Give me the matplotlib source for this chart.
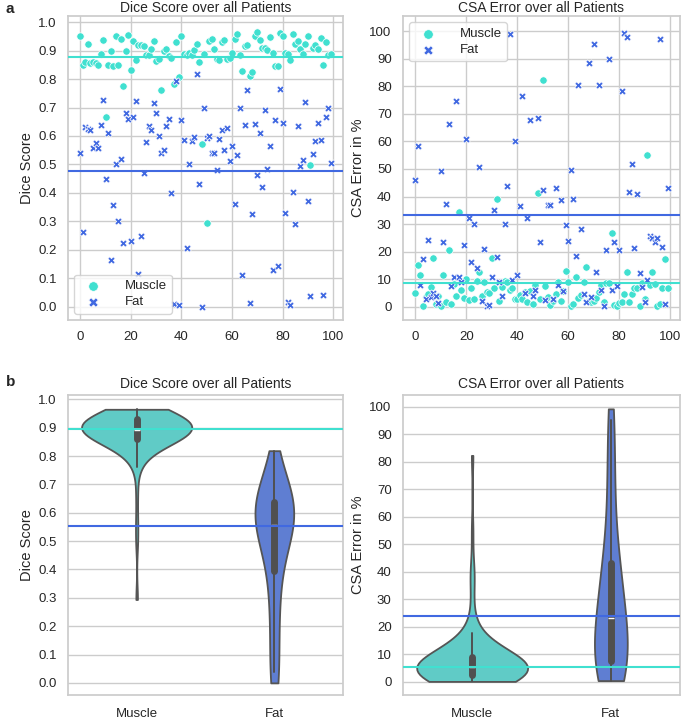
import matplotlib
matplotlib.use('Agg')
import matplotlib.pyplot as plt
import numpy as np
import pandas as pd
import seaborn as sns

# values, one per patient (0..99)
muscle_dice = [0.950, 0.850, 0.861, 0.922, 0.857, 0.859, 0.857, 0.851, 0.888, 0.937,
               0.667, 0.851, 0.897, 0.847, 0.950, 0.851, 0.941, 0.774, 0.900, 0.955,
               0.833, 0.934, 0.868, 0.921, 0.920, 0.917, 0.884, 0.886, 0.906, 0.935,
               0.862, 0.870, 0.762, 0.900, 0.906, 0.880, 0.873, 0.781, 0.929, 0.807,
               0.951, 0.888, 0.883, 0.890, 0.886, 0.902, 0.922, 0.860, 0.571, 0.887,
               0.294, 0.932, 0.939, 0.904, 0.870, 0.868, 0.930, 0.937, 0.872, 0.873,
               0.893, 0.942, 0.959, 0.886, 0.830, 0.917, 0.921, 0.811, 0.825, 0.952,
               0.965, 0.938, 0.908, 0.908, 0.902, 0.946, 0.892, 0.846, 0.846, 0.962,
               0.953, 0.893, 0.889, 0.868, 0.959, 0.923, 0.935, 0.906, 0.888, 0.923,
               0.950, 0.499, 0.909, 0.921, 0.904, 0.944, 0.851, 0.931, 0.883, 0.888]
fat_dice = [0.540, 0.262, 0.633, 0.624, 0.620, 0.558, 0.575, 0.556, 0.639, 0.727,
            0.450, 0.611, 0.164, 0.358, 0.500, 0.300, 0.519, 0.224, 0.680, 0.661,
            0.230, 0.667, 0.724, 0.114, 0.250, 0.470, 0.580, 0.636, 0.622, 0.716,
            0.679, 0.600, 0.540, 0.550, 0.636, 0.660, 0.400, 0.009, 0.794, 0.005,
            0.656, 0.586, 0.207, 0.500, 0.583, 0.596, 0.819, 0.430, 0.000, 0.700,
            0.593, 0.599, 0.541, 0.541, 0.480, 0.590, 0.620, 0.551, 0.628, 0.513,
            0.566, 0.360, 0.533, 0.700, 0.113, 0.639, 0.761, 0.013, 0.326, 0.641,
            0.462, 0.610, 0.421, 0.692, 0.483, 0.564, 0.128, 0.655, 0.143, 0.766,
            0.646, 0.329, 0.017, 0.006, 0.403, 0.290, 0.635, 0.495, 0.514, 0.720,
            0.372, 0.038, 0.536, 0.584, 0.646, 0.587, 0.042, 0.665, 0.700, 0.506]
muscle_csa = [5.1, 15.2, 11.7, 0.4, 3.5, 4.8, 7.2, 17.6, 1.0, 3.8,
              0.5, 11.7, 1.9, 20.5, 1.1, 8.3, 4.0, 34.3, 6.0, 3.2,
              10.1, 2.4, 6.9, 2.9, 9.5, 12.6, 4.0, 8.9, 5.4, 5.1,
              17.8, 7.0, 39.2, 2.2, 7.2, 9.5, 9.2, 6.0, 6.9, 2.8,
              3.0, 4.4, 2.8, 5.5, 1.9, 5.6, 1.2, 8.1, 41.2, 2.8,
              82.3, 7.5, 3.6, 0.8, 2.2, 4.8, 9.0, 2.0, 5.8, 12.9,
              9.0, 0.2, 1.2, 10.8, 3.2, 4.3, 8.9, 14.4, 2.0, 1.6,
              2.3, 3.4, 5.5, 8.1, 1.6, 8.6, 8.6, 26.9, 0.6, 0.2,
              1.3, 1.7, 4.8, 12.8, 1.9, 4.7, 6.8, 6.7, 0.5, 8.5,
              3.0, 54.9, 8.0, 12.6, 8.4, 0.2, 1.0, 6.8, 17.4, 6.8]
fat_csa = [45.9, 58.3, 8.0, 17.4, 3.0, 24.4, 3.5, 5.0, 4.1, 1.3,
           49.2, 23.6, 37.2, 66.2, 7.5, 11.0, 74.6, 10.9, 9.0, 22.3,
           60.7, 32.2, 16.3, 29.9, 14.0, 50.7, 2.0, 21.0, 0.5, 0.8,
           10.9, 35.0, 18.1, 9.0, 3.8, 30.0, 43.7, 98.9, 9.8, 60.2,
           11.5, 36.5, 76.4, 5.0, 32.2, 67.7, 4.1, 6.3, 68.3, 23.4,
           42.5, 2.4, 36.9, 36.9, 3.0, 43.1, 8.0, 38.9, 5.9, 29.7,
           24.0, 49.6, 39.0, 18.4, 80.5, 28.1, 4.7, 1.7, 88.3, 3.6,
           95.2, 12.8, 80.5, 6.1, 0.5, 20.5, 89.8, 6.2, 23.4, 7.4,
           20.5, 78.1, 99.2, 97.8, 41.8, 51.9, 21.2, 40.8, 12.2, 7.1,
           1.8, 9.8, 25.6, 24.8, 23.4, 24.9, 97.2, 21.8, 1.2, 43.2]

classes = ['Muscle', 'Fat']
# reference lines (means on top, medians below)
dice_means = [0.877, 0.478]
csa_means = [8.7, 33.3]
dice_medians = [0.897, 0.553]
csa_medians = [5.5, 24.0]

colors = ['turquoise', 'royalblue']
violin_colors = ['#60cbc6', '#5f7ed2']
markers = ['o', 'X']

sns.set_theme(style='whitegrid')
plt.rcParams['font.family'] = ['Liberation Sans', 'DejaVu Sans']

fig = plt.figure(figsize=(6.85, 7.21), dpi=100)
ax1 = fig.add_axes([0.099, 0.556, 0.402, 0.422])
ax2 = fig.add_axes([0.588, 0.556, 0.405, 0.422])
ax3 = fig.add_axes([0.099, 0.036, 0.402, 0.416])
ax4 = fig.add_axes([0.588, 0.036, 0.405, 0.416])

patients = np.arange(len(muscle_dice))


def scatter_panel(ax, series, means, title, ylabel, legend_loc):
    for vals, name, c, m in zip(series, classes, colors, markers):
        ax.scatter(patients, vals, s=28, c=c, marker=m, edgecolors='white',
                   linewidths=0.5, label=name, zorder=3)
    for mv, c in zip(means, colors):
        ax.axhline(mv, color=c, lw=1.5, zorder=4)
    ax.set_title(title, fontsize=10, pad=3)
    ax.set_ylabel(ylabel, fontsize=10.5, labelpad=3)
    ax.tick_params(labelsize=9.5, pad=2)
    ax.legend(loc=legend_loc, fontsize=9.5, handletextpad=1.4, borderpad=0.4,
              markerscale=1.3, labelspacing=0.3)


scatter_panel(ax1, [muscle_dice, fat_dice], dice_means,
              'Dice Score over all Patients', 'Dice Score', 'lower left')
ax1.set_ylim(-0.047, 1.022)
ax1.set_yticks(np.arange(0, 1.01, 0.1))
ax1.set_xticks([0, 20, 40, 60, 80, 100])

scatter_panel(ax2, [muscle_csa, fat_csa], csa_means,
              'CSA Error over all Patients', 'CSA Error in %', 'upper left')
ax2.set_ylim(-4.8, 105.5)
ax2.set_yticks(np.arange(0, 101, 10))
ax2.set_xticks([0, 20, 40, 60, 80, 100])


def violin_panel(ax, series, medians, title, ylabel):
    df = pd.DataFrame({
        'cls': np.repeat(classes, [len(s) for s in series]),
        'val': np.concatenate(series),
    })
    sns.violinplot(data=df, x='cls', y='val', hue='cls', order=classes,
                   palette=violin_colors, saturation=1, cut=0, inner='box',
                   linewidth=1.3, linecolor='#555555', bw_adjust=1.25,
                   density_norm='area', common_norm=True,
                   inner_kws=dict(box_width=5, whis_width=1.4, color='#505050'),
                   legend=False, ax=ax)
    for mv, c in zip(medians, colors):
        ax.axhline(mv, color=c, lw=1.5, zorder=5)
    ax.set_title(title, fontsize=10, pad=5)
    ax.set_xlabel('')
    ax.set_ylabel(ylabel, fontsize=10.5, labelpad=3)
    ax.tick_params(labelsize=9.5, pad=2)
    ax.tick_params(axis='x', pad=3)


violin_panel(ax3, [muscle_dice, fat_dice], dice_medians,
             'Dice Score over all Patients', 'Dice Score')
ax3.set_ylim(-0.043, 1.015)
ax3.set_yticks(np.arange(0, 1.01, 0.1))

violin_panel(ax4, [muscle_csa, fat_csa], csa_medians,
             'CSA Error over all Patients', 'CSA Error in %')
ax4.set_ylim(-4.75, 104.2)
ax4.set_yticks(np.arange(0, 101, 10))

fig.text(0.008, 0.988, 'a', fontsize=11, fontweight='bold', va='center')
fig.text(0.008, 0.47, 'b', fontsize=11, fontweight='bold', va='center')

fig.savefig('out.png', dpi=100)
